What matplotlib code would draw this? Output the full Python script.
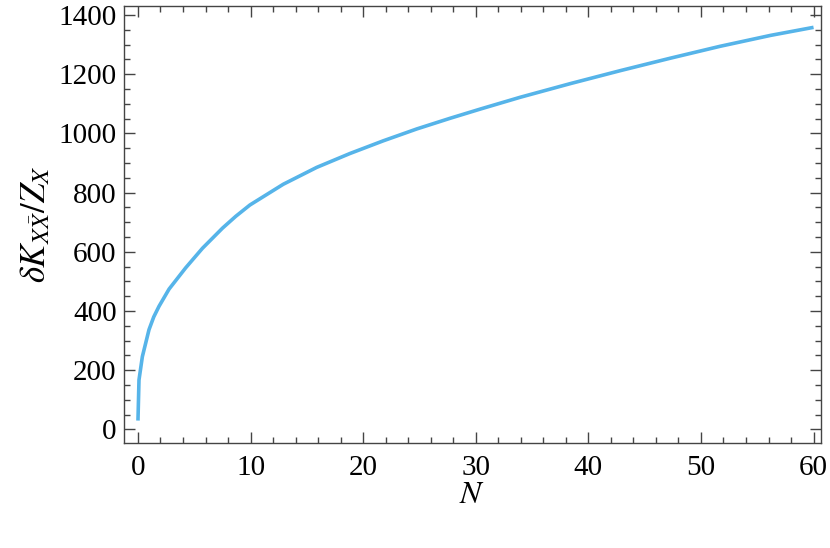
import numpy as np
import matplotlib.pyplot as plt
from matplotlib.ticker import MultipleLocator

# values
n_vals = [0, 0.09, 0.39, 0.98, 1.4, 1.87, 2.76, 4.24, 5.73, 7.51, 8.69, 9.94,
          12.9, 15.87, 18.83, 21.8, 24.77, 27.73, 30.4, 33.96, 38.4,
          42.86, 47.3, 51.7, 56.2, 60]
k_vals = [30, 167, 246, 337, 380, 416, 474, 546, 612, 680, 720, 758,
          828, 885, 932, 975, 1015, 1051, 1082, 1122, 1168,
          1212, 1254, 1294, 1331, 1358]

plt.rcParams['font.family'] = 'Liberation Serif'
plt.rcParams['mathtext.fontset'] = 'stix'

fig = plt.figure(figsize=(8.3, 5.48), dpi=100)
ax = fig.add_axes([0.149, 0.192, 0.840, 0.797])

ax.plot(n_vals, k_vals, color='#56B4E9', lw=2.6, solid_capstyle='butt',
        solid_joinstyle='round')

ax.set_xlim(-1.27, 60.65)
ax.set_ylim(-45, 1430)

ax.xaxis.set_major_locator(MultipleLocator(10))
ax.xaxis.set_minor_locator(MultipleLocator(2))
ax.yaxis.set_major_locator(MultipleLocator(200))
ax.yaxis.set_minor_locator(MultipleLocator(50))

ax.tick_params(which='both', direction='in', top=True, right=True,
               color='#444444', width=1.0, labelsize=21)
ax.tick_params(which='major', length=8)
ax.tick_params(which='minor', length=4.5)
ax.tick_params(axis='x', pad=9)
ax.tick_params(axis='y', pad=5)
for s in ax.spines.values():
    s.set_color('#444444')
    s.set_linewidth(1.0)

ax.set_xlabel(r'$N$', fontsize=23, labelpad=0)
ax.set_ylabel(r'$\delta K_{X\bar{X}}/Z_X$', fontsize=25, labelpad=4)

fig.savefig('out.png')
